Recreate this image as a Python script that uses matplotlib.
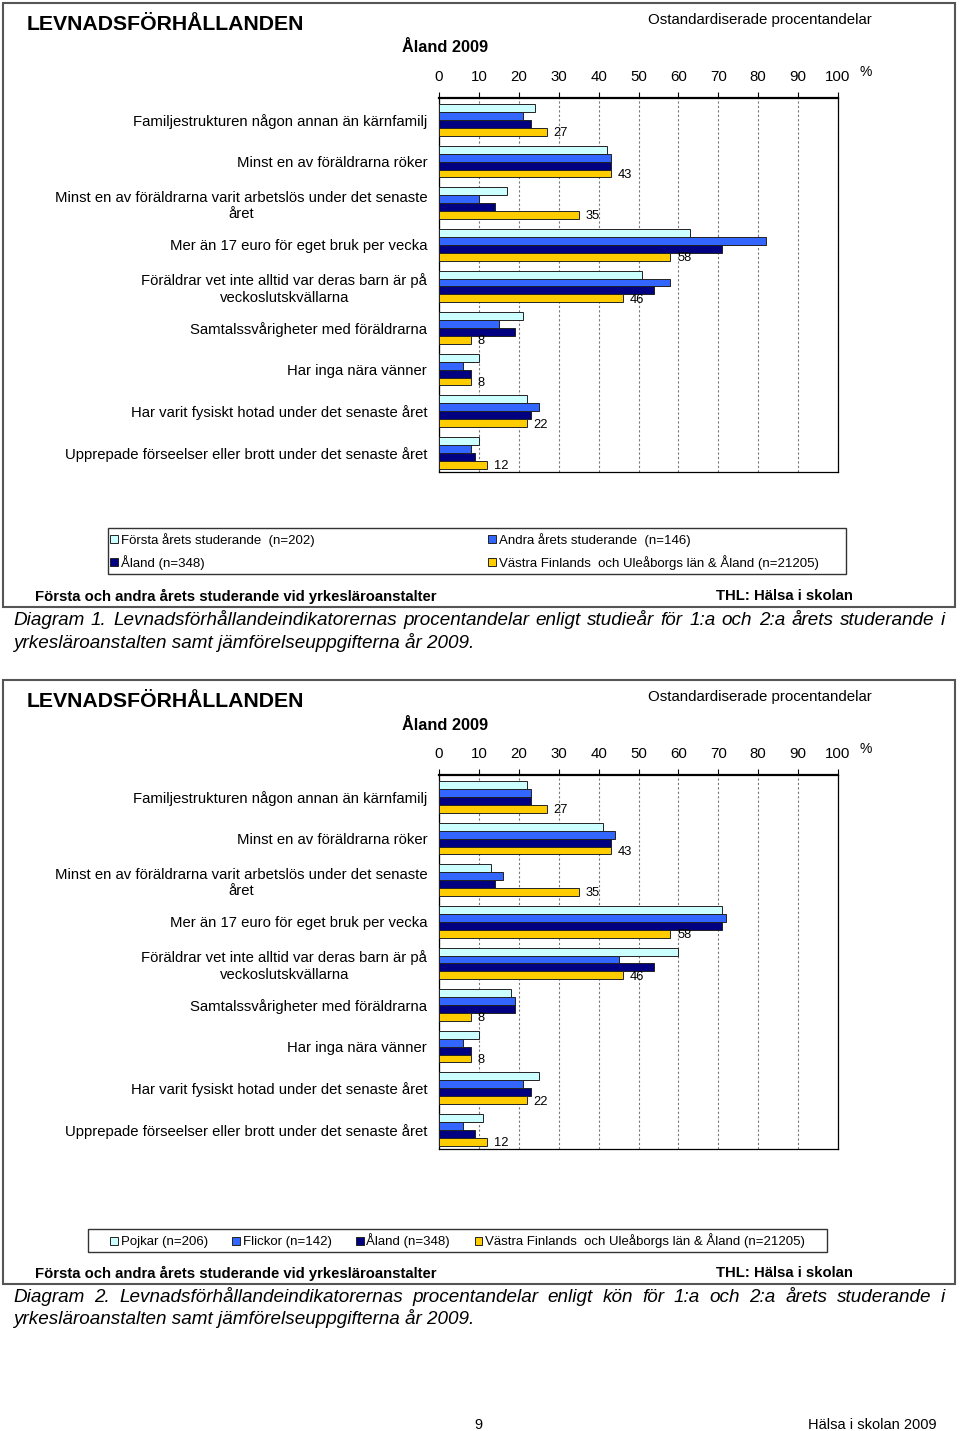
import numpy as np
import matplotlib
matplotlib.use("Agg")
import matplotlib.pyplot as plt
from matplotlib.patches import Patch, Rectangle

plt.rcParams['font.family'] = ['Liberation Sans', 'DejaVu Sans']

categories = [
    "Familjestrukturen någon annan än kärnfamilj",
    "Minst en av föräldrarna röker",
    "Minst en av föräldrarna varit arbetslös under det senaste\nåret",
    "Mer än 17 euro för eget bruk per vecka",
    "Föräldrar vet inte alltid var deras barn är på\nveckoslutskvällarna",
    "Samtalssvårigheter med föräldrarna",
    "Har inga nära vänner",
    "Har varit fysiskt hotad under det senaste året",
    "Upprepade förseelser eller brott under det senaste året",
]

# diagram 1: by year of study
first_year = [24, 42, 17, 63, 51, 21, 10, 22, 10]
second_year = [21, 43, 10, 82, 58, 15, 6, 25, 8]
# diagram 2: by sex
boys = [22, 41, 13, 71, 60, 18, 10, 25, 11]
girls = [23, 44, 16, 72, 45, 19, 6, 21, 6]
# reference groups (same in both)
aland = [23, 43, 14, 71, 54, 19, 8, 23, 9]
region = [27, 43, 35, 58, 46, 8, 8, 22, 12]

legend1 = ["Första årets studerande  (n=202)", "Andra årets studerande  (n=146)",
           "Åland (n=348)", "Västra Finlands  och Uleåborgs län & Åland (n=21205)"]
legend2 = ["Pojkar (n=206)", "Flickor (n=142)", "Åland (n=348)",
           "Västra Finlands  och Uleåborgs län & Åland (n=21205)"]

colors = ['#CCFFFF', '#3366FF', '#000080', '#FFCC00']

W, H = 960, 1431
fig = plt.figure(figsize=(W / 100, H / 100), dpi=100)
renderer = fig.canvas.get_renderer()


def px(x, y):
    return x / W, 1 - y / H


def ftext(x, y, s, **kw):
    kw.setdefault('va', 'center')
    return fig.text(*px(x, y), s, **kw)


def box(x0, y0, x1, y1, **kw):
    fig.patches.append(Rectangle(px(x0, y1), (x1 - x0) / W, (y1 - y0) / H, fill=False,
                                 transform=fig.transFigure, **kw))


def justify(line, x0, x1, y, **kw):
    words = line.split()
    ts = [ftext(0, y, w, **kw) for w in words]
    ws = [t.get_window_extent(renderer).width for t in ts]
    gap = (x1 - x0 - sum(ws)) / (len(words) - 1)
    x = x0
    for t, w in zip(ts, ws):
        t.set_position(px(x, y))
        x += w + gap


def panel(off, series, leg_labels, caption):
    box(3, 3 + off, 955, 607 + off, edgecolor='#555555', lw=1.5)
    ftext(27, 24 + off, "LEVNADSFÖRHÅLLANDEN", fontsize=15.3, fontweight='bold')
    ftext(648, 20 + off, "Ostandardiserade procentandelar", fontsize=10.8)
    ftext(402, 48 + off, "Åland 2009", fontsize=11.8, fontweight='bold')
    ftext(859, 72 + off, "%", fontsize=10)

    ax = fig.add_axes([439 / W, 1 - (472 + off) / H, 399 / W, 374 / H])
    y = np.arange(len(categories))
    h = 0.19
    for k, (vals, c) in enumerate(zip(series, colors)):
        ax.barh(y + (k - 1.5) * h, vals, height=h, color=c, edgecolor='#222222',
                linewidth=0.7, zorder=3)
    for yi, v in zip(y, series[3]):
        ax.annotate(str(v), (v, yi + 1.5 * h), xytext=(5, -1), textcoords='offset points',
                    va='center', ha='left', fontsize=9.3)
    ax.set_xlim(0, 100)
    ax.set_ylim(8.46, -0.53)
    ax.xaxis.tick_top()
    ax.set_xticks(range(0, 101, 10))
    ax.tick_params(axis='x', direction='out', length=4, pad=6, labelsize=10.8)
    ax.set_yticks(y)
    ax.set_yticklabels(categories, fontsize=10.7)
    for t in ax.get_yticklabels():
        t.set_multialignment('center')
    ax.tick_params(axis='y', length=0, pad=8.5)
    ax.xaxis.grid(True, linestyle=(0, (2, 2)), color='#777777', linewidth=0.8)
    ax.set_axisbelow(True)
    ax.spines['top'].set_linewidth(1.6)
    for s in ['left', 'right', 'bottom']:
        ax.spines[s].set_linewidth(0.9)

    handles = [Patch(facecolor=c, edgecolor='#222222', linewidth=0.7) for c in colors]
    common = dict(fontsize=9.5, handlelength=0.6, handleheight=0.6, handletextpad=0.2,
                  frameon=False, borderpad=0, borderaxespad=0)
    if off == 0:
        order = [0, 2, 1, 3]
        fig.legend([handles[i] for i in order], [leg_labels[i] for i in order],
                   ncol=2, loc='upper left', bbox_to_anchor=px(110, 533),
                   columnspacing=13.2, labelspacing=0.6, **common)
        box(108, 528, 846, 574, edgecolor='#333333', lw=1)
    else:
        fig.legend(handles, leg_labels, ncol=4, loc='center left',
                   bbox_to_anchor=px(110, 1241), columnspacing=1.85, **common)
        box(88, 1229, 827, 1252, edgecolor='#333333', lw=1)

    ftext(35, 596 + off, "Första och andra årets studerande vid yrkesläroanstalter",
          fontsize=10.7, fontweight='bold')
    ftext(853, 596 + off, "THL: Hälsa i skolan", fontsize=10.7, fontweight='bold', ha='right')

    justify(caption[0], 13, 945, 620 + off, fontsize=13.6, style='italic')
    ftext(13, 642 + off, caption[1], fontsize=13.6, style='italic')


panel(0, [first_year, second_year, aland, region], legend1,
      ["Diagram 1. Levnadsförhållandeindikatorernas procentandelar enligt studieår för "
       "1:a och 2:a årets studerande i",
       "yrkesläroanstalten samt jämförelseuppgifterna år 2009."])
panel(677, [boys, girls, aland, region], legend2,
      ["Diagram 2. Levnadsförhållandeindikatorernas procentandelar enligt kön för "
       "1:a och 2:a årets studerande i",
       "yrkesläroanstalten samt jämförelseuppgifterna år 2009."])

ftext(478, 1425, "9", fontsize=10.5, ha='center')
ftext(937, 1425, "Hälsa i skolan 2009", fontsize=10.5, ha='right')

fig.savefig("out.png", dpi=100, facecolor='white')
